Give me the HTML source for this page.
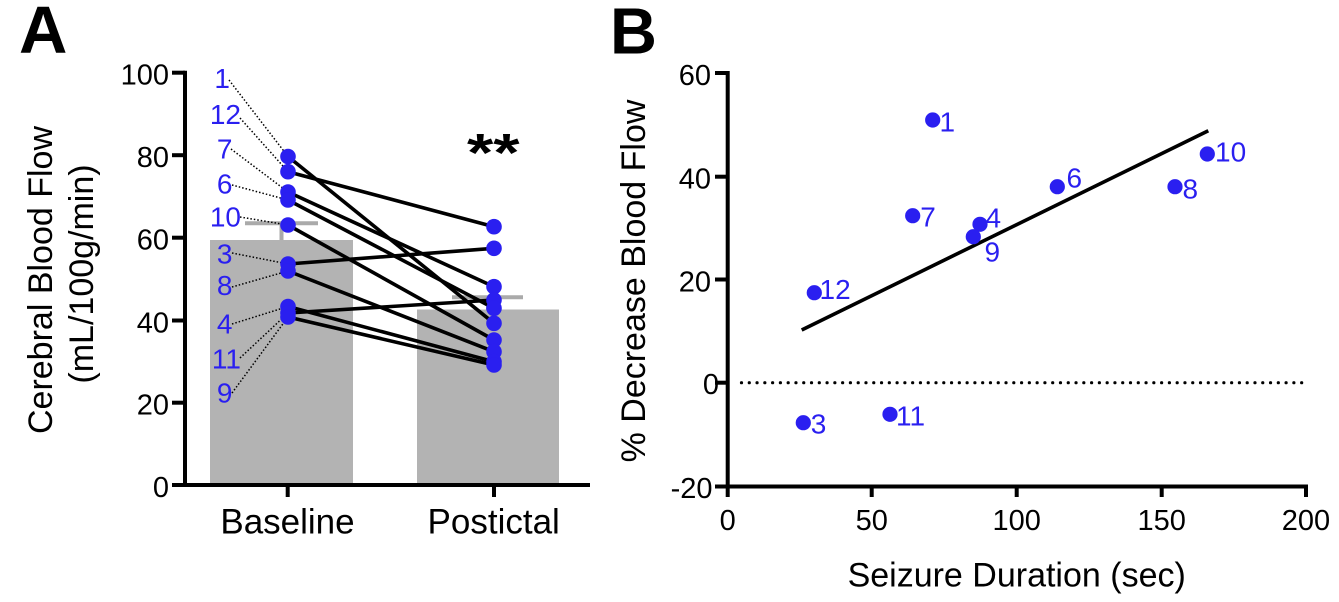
<!DOCTYPE html>
<html><head><meta charset="utf-8"><style>
html,body{margin:0;padding:0;background:#fff;}
svg{display:block;}
text{font-family:"Liberation Sans",Arial,sans-serif;}
</style></head><body>
<svg width="1339" height="602" viewBox="0 0 1339 602" xmlns="http://www.w3.org/2000/svg">
<rect width="1339" height="602" fill="#fff"/>

<!-- ===== Panel A ===== -->
<text x="19" y="53" font-size="67" font-weight="bold" fill="#000">A</text>

<!-- bars -->
<rect x="210" y="240" width="143" height="245" fill="#b3b3b3"/>
<rect x="417" y="309.5" width="142" height="175.5" fill="#b3b3b3"/>
<!-- error bars -->
<g stroke="#aaaaaa" stroke-width="4" fill="none">
<line x1="281.5" y1="240" x2="281.5" y2="223.3"/>
<line x1="245" y1="223.3" x2="318" y2="223.3"/>
<line x1="488" y1="309.5" x2="488" y2="297.3"/>
<line x1="452" y1="297.3" x2="523" y2="297.3"/>
</g>

<!-- dotted leaders -->
<g stroke="#000" stroke-width="1.5" stroke-dasharray="1.5 2" fill="none">
<line x1="229" y1="80" x2="288" y2="156.5"/>
<line x1="240" y1="118" x2="288" y2="171.7"/>
<line x1="231" y1="149" x2="288" y2="192"/>
<line x1="232" y1="185" x2="288" y2="200"/>
<line x1="240" y1="217" x2="288" y2="225"/>
<line x1="232" y1="253" x2="288" y2="264"/>
<line x1="232" y1="287" x2="288" y2="271"/>
<line x1="232" y1="324" x2="288" y2="306.5"/>
<line x1="240" y1="358" x2="288" y2="313"/>
<line x1="232" y1="393" x2="288" y2="317"/>
</g>

<!-- pairing lines -->
<g stroke="#000" stroke-width="3.6" fill="none">
<line x1="288" y1="156.5" x2="494" y2="323.3"/>
<line x1="288" y1="171.7" x2="494" y2="226.7"/>
<line x1="288" y1="192" x2="494" y2="286.7"/>
<line x1="288" y1="200" x2="494" y2="308.3"/>
<line x1="288" y1="225" x2="494" y2="340"/>
<line x1="288" y1="264" x2="494" y2="248.3"/>
<line x1="288" y1="271" x2="494" y2="351.7"/>
<line x1="288" y1="306.5" x2="494" y2="361.7"/>
<line x1="288" y1="313" x2="494" y2="300"/>
<line x1="288" y1="317" x2="494" y2="365"/>
</g>

<!-- dots -->
<g fill="#2a1ff0">
<circle cx="288" cy="156.5" r="7.8"/>
<circle cx="288" cy="171.7" r="7.8"/>
<circle cx="288" cy="192" r="7.8"/>
<circle cx="288" cy="200" r="7.8"/>
<circle cx="288" cy="225" r="7.8"/>
<circle cx="288" cy="264" r="7.8"/>
<circle cx="288" cy="271" r="7.8"/>
<circle cx="288" cy="306.5" r="7.8"/>
<circle cx="288" cy="313" r="7.8"/>
<circle cx="288" cy="317" r="7.8"/>
<circle cx="494" cy="226.7" r="7.8"/>
<circle cx="494" cy="248.3" r="7.8"/>
<circle cx="494" cy="286.7" r="7.8"/>
<circle cx="494" cy="300" r="7.8"/>
<circle cx="494" cy="308.3" r="7.8"/>
<circle cx="494" cy="323.3" r="7.8"/>
<circle cx="494" cy="340" r="7.8"/>
<circle cx="494" cy="351.7" r="7.8"/>
<circle cx="494" cy="361.7" r="7.8"/>
<circle cx="494" cy="365" r="7.8"/>
</g>

<!-- subject labels A -->
<g fill="#2a1ff0" font-size="28" text-anchor="end">
<text x="230" y="88">1</text>
<text x="241" y="124">12</text>
<text x="232.5" y="158.3">7</text>
<text x="232.5" y="193.3">6</text>
<text x="241" y="226.7">10</text>
<text x="232.5" y="263.3">3</text>
<text x="232.5" y="295">8</text>
<text x="232.5" y="333.3">4</text>
<text x="241" y="368.3">11</text>
<text x="232.5" y="402.7">9</text>
</g>

<!-- ** -->
<text transform="translate(467,171) scale(1.25,1)" font-size="54" font-weight="bold" fill="#000">**</text>

<!-- axes A -->
<g stroke="#000" stroke-width="4" fill="none">
<line x1="185" y1="70.7" x2="185" y2="487"/>
<line x1="183" y1="485" x2="590" y2="485"/>
<line x1="172" y1="72.7" x2="185" y2="72.7"/>
<line x1="172" y1="155.2" x2="185" y2="155.2"/>
<line x1="172" y1="237.7" x2="185" y2="237.7"/>
<line x1="172" y1="320.5" x2="185" y2="320.5"/>
<line x1="172" y1="402.7" x2="185" y2="402.7"/>
<line x1="172" y1="485" x2="185" y2="485"/>
<line x1="287.7" y1="485" x2="287.7" y2="497"/>
<line x1="494" y1="485" x2="494" y2="497"/>
</g>
<g font-size="29" text-anchor="end" fill="#000">
<text x="169" y="84.5">100</text>
<text x="169" y="167">80</text>
<text x="169" y="249.5">60</text>
<text x="169" y="332.3">40</text>
<text x="169" y="414.5">20</text>
<text x="169" y="496.8">0</text>
</g>
<g font-size="35" text-anchor="middle" fill="#000">
<text x="287.5" y="533.3">Baseline</text>
<text x="493.7" y="533.3">Postictal</text>
</g>
<g font-size="34" text-anchor="middle" fill="#000">
<text transform="translate(52,280) rotate(-90)">Cerebral Blood Flow</text>
<text transform="translate(93,274) rotate(-90)">(mL/100g/min)</text>
</g>

<!-- ===== Panel B ===== -->
<text x="610" y="53.3" font-size="65" font-weight="bold" fill="#000">B</text>

<!-- zero dotted line -->
<line x1="741.5" y1="382.7" x2="1302" y2="382.7" stroke="#000" stroke-width="3.2" stroke-linecap="round" stroke-dasharray="0 7.78"/>

<!-- regression -->
<line x1="801.7" y1="330" x2="1208.3" y2="130.7" stroke="#000" stroke-width="3.6"/>

<g fill="#2a1ff0">
<circle cx="932.7" cy="120" r="7.6"/>
<circle cx="912.7" cy="215.7" r="7.6"/>
<circle cx="980" cy="224.3" r="7.6"/>
<circle cx="973.3" cy="236.7" r="7.6"/>
<circle cx="814.3" cy="292.7" r="7.6"/>
<circle cx="1057.3" cy="186.7" r="7.6"/>
<circle cx="1175" cy="186.7" r="7.6"/>
<circle cx="1207.3" cy="154" r="7.6"/>
<circle cx="803.3" cy="422.7" r="7.6"/>
<circle cx="890" cy="414.3" r="7.6"/>
</g>
<g fill="#2a1ff0" font-size="28">
<text x="939.5" y="131.7">1</text>
<text x="920.2" y="226.7">7</text>
<text x="985.5" y="227.7">4</text>
<text x="984.5" y="261.7">9</text>
<text x="819.5" y="299">12</text>
<text x="1066.5" y="187.3">6</text>
<text x="1182.5" y="198.3">8</text>
<text x="1215" y="161.7">10</text>
<text x="810.8" y="433.3">3</text>
<text x="896" y="425.7">11</text>
</g>

<!-- axes B -->
<g stroke="#000" stroke-width="4" fill="none">
<line x1="727.7" y1="71" x2="727.7" y2="488.5"/>
<line x1="725.7" y1="486.5" x2="1308" y2="486.5"/>
<line x1="715" y1="73" x2="727.7" y2="73"/>
<line x1="715" y1="176.7" x2="727.7" y2="176.7"/>
<line x1="715" y1="279.5" x2="727.7" y2="279.5"/>
<line x1="715" y1="382.7" x2="727.7" y2="382.7"/>
<line x1="715" y1="486.5" x2="727.7" y2="486.5"/>
<line x1="727.7" y1="486.5" x2="727.7" y2="497"/>
<line x1="871.7" y1="486.5" x2="871.7" y2="497"/>
<line x1="1016.7" y1="486.5" x2="1016.7" y2="497"/>
<line x1="1161.7" y1="486.5" x2="1161.7" y2="497"/>
<line x1="1306" y1="486.5" x2="1306" y2="497"/>
</g>
<g font-size="29" text-anchor="end" fill="#000">
<text x="711" y="85">60</text>
<text x="711" y="188.5">40</text>
<text x="711" y="291.3">20</text>
<text x="719" y="393.8">0</text>
<text x="712.5" y="498">-20</text>
</g>
<g font-size="29" text-anchor="middle" fill="#000">
<text x="727.7" y="530">0</text>
<text x="871.7" y="530">50</text>
<text x="1016.7" y="530">100</text>
<text x="1161.7" y="530">150</text>
<text x="1306" y="530">200</text>
</g>
<text x="1016.7" y="586.7" font-size="34" text-anchor="middle" fill="#000">Seizure Duration (sec)</text>
<text transform="translate(645,281) rotate(-90)" font-size="34" text-anchor="middle" fill="#000">% Decrease Blood Flow</text>
</svg>
</body></html>
